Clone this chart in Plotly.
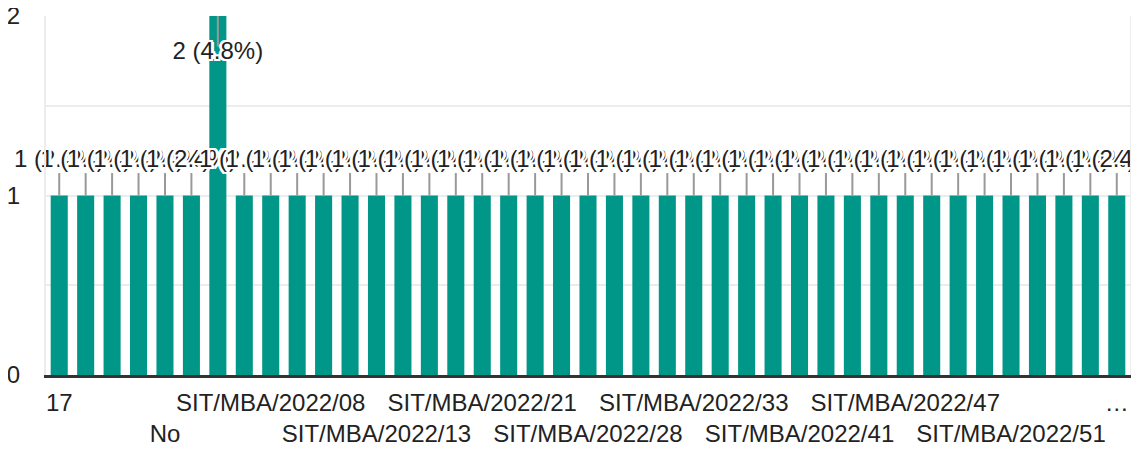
import plotly.graph_objects as go

categories = [
    "17", "22", "45", "MBA", "No",
    "SIT/MBA/2022/02", "SIT/MBA/2022/05", "SIT/MBA/2022/07", "SIT/MBA/2022/08",
    "SIT/MBA/2022/09", "SIT/MBA/2022/10", "SIT/MBA/2022/12", "SIT/MBA/2022/13",
    "SIT/MBA/2022/15", "SIT/MBA/2022/17", "SIT/MBA/2022/19", "SIT/MBA/2022/21",
    "SIT/MBA/2022/23", "SIT/MBA/2022/25", "SIT/MBA/2022/26", "SIT/MBA/2022/28",
    "SIT/MBA/2022/29", "SIT/MBA/2022/31", "SIT/MBA/2022/32", "SIT/MBA/2022/33",
    "SIT/MBA/2022/35", "SIT/MBA/2022/38", "SIT/MBA/2022/40", "SIT/MBA/2022/41",
    "SIT/MBA/2022/42", "SIT/MBA/2022/44", "SIT/MBA/2022/45", "SIT/MBA/2022/47",
    "SIT/MBA/2022/48", "SIT/MBA/2022/49", "SIT/MBA/2022/50", "SIT/MBA/2022/51",
    "SIT/MBA/2022/53", "SIT/MBA/2022/55", "SIT/MBA/2022/57", "SIT/MBA/2022/MBA-59",
]
counts = [1, 1, 1, 1, 1, 1, 2, 1, 1, 1, 1, 1, 1, 1, 1, 1, 1, 1, 1, 1, 1,
          1, 1, 1, 1, 1, 1, 1, 1, 1, 1, 1, 1, 1, 1, 1, 1, 1, 1, 1, 1]

# x tick labels shown (every 4th category, staggered on two rows)
xtick_index = [0, 4, 8, 12, 16, 20, 24, 28, 32, 36, 40]
xtick_text = ["17", "No", "SIT/MBA/2022/08", "SIT/MBA/2022/13", "SIT/MBA/2022/21",
              "SIT/MBA/2022/28", "SIT/MBA/2022/33", "SIT/MBA/2022/41",
              "SIT/MBA/2022/47", "SIT/MBA/2022/51", "…"]
xtick_row = [1, 2, 1, 2, 1, 2, 1, 2, 1, 2, 1]

ytick_vals = [0, 0.5, 1, 1.5, 2]
ytick_text = ["0", "", "1", "", "2"]
y_max = 2

TEAL = "#009688"
FONT = "Liberation Sans, Arial, sans-serif"

total = sum(counts)
labels = [f"{c} ({c / total * 100:.1f}%)" for c in counts]

# label placement: above bar, or inside top if bar reaches top of axis
stem_x, stem_y, lab_y = [], [], []
for cat, c in zip(categories, counts):
    if c >= y_max:
        stem_x += [cat, cat, None]
        stem_y += [c, c - 0.17, None]
        lab_y.append(c - 0.206)
    else:
        stem_x += [cat, cat, None]
        stem_y += [c, c + 0.125, None]
        lab_y.append(c + 0.195)

halo = ", ".join(f"white {dx}px {dy}px 0px" for dx, dy in
                 [(2, 0), (-2, 0), (0, 2), (0, -2), (2, 2), (-2, -2), (2, -2), (-2, 2),
                  (1, 0), (-1, 0), (0, 1), (0, -1), (3, 0), (-3, 0)])

fig = go.Figure()
fig.add_trace(go.Bar(x=categories, y=counts, marker=dict(color=TEAL, line=dict(width=0)),
                     hoverinfo="x+y"))
fig.add_trace(go.Scatter(x=stem_x, y=stem_y, mode="lines",
                         line=dict(color="#999999", width=2), hoverinfo="skip"))
fig.add_trace(go.Scatter(x=categories, y=lab_y, mode="text", text=labels,
                         textposition="middle center", cliponaxis=False,
                         textfont=dict(family=FONT, size=24, color="#222222", shadow=halo),
                         hoverinfo="skip"))

ticktext = [t if r == 1 else "<br>" + t for t, r in zip(xtick_text, xtick_row)]

fig.update_layout(
    width=1123, height=442,
    margin=dict(l=38, r=1, t=8, b=75),
    paper_bgcolor="white", plot_bgcolor="white",
    showlegend=False, bargap=0.355,
    font=dict(family=FONT, size=24, color="#222222"),
    xaxis=dict(
        type="category",
        range=[-0.5, len(categories) - 0.5], autorange=False,
        tickmode="array",
        tickvals=[categories[i] for i in xtick_index],
        ticktext=ticktext, tickangle=0, automargin=False,
        showgrid=False, zeroline=False,
        showline=True, linecolor="#333333", linewidth=3,
        ticks="", tickfont=dict(size=24, color="#222222"),
        ticklabelstandoff=4, ticklabeloverflow="allow",
    ),
    yaxis=dict(
        range=[0, y_max], autorange=False, tickmode="array",
        tickvals=ytick_vals, ticktext=ytick_text, automargin=False,
        showgrid=True, gridcolor="#ececec", gridwidth=2,
        zeroline=False, showline=True, mirror=True, linecolor="#ececec", linewidth=2,
        ticks="", tickfont=dict(size=24, color="#222222"),
        ticklabelstandoff=19, ticklabeloverflow="allow",
    ),
)

fig.write_html("out.html")
